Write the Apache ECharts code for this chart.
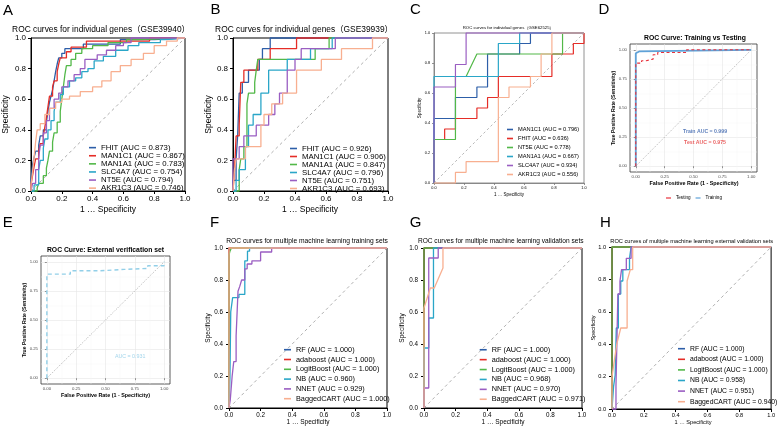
<!DOCTYPE html>
<html><head><meta charset="utf-8">
<script src="https://cdn.jsdelivr.net/npm/echarts@6/dist/echarts.min.js"></script>
<style>html,body{margin:0;padding:0;background:#fff}#c{width:778px;height:427px}</style>
</head><body><div id="c"></div>
<script>
// ---------------- DATA ----------------
const DIAG = [[0,0],[1,1]];
const A_NAMES = ['FHIT (AUC = 0.873)','MAN1C1 (AUC = 0.867)','MAN1A1 (AUC = 0.783)','SLC4A7 (AUC = 0.754)','NT5E (AUC = 0.794)','AKR1C3 (AUC = 0.746)'];
const A_FHIT = [[0,0],[0,0.08],[0.01,0.08],[0.01,0.17],[0.02,0.17],[0.02,0.22],[0.03,0.22],[0.03,0.26],[0.05,0.26],[0.05,0.3],[0.06,0.3],[0.06,0.36],[0.08,0.36],[0.08,0.4],[0.1,0.4],[0.1,0.45],[0.11,0.45],[0.11,0.52],[0.12,0.52],[0.12,0.58],[0.13,0.58],[0.13,0.62],[0.14,0.62],[0.14,0.66],[0.15,0.66],[0.15,0.72],[0.16,0.72],[0.16,0.78],[0.17,0.78],[0.17,0.83],[0.18,0.83],[0.18,0.87],[0.2,0.87],[0.2,0.9],[0.22,0.9],[0.22,0.93],[0.34,0.93],[0.34,0.96],[0.58,0.96],[0.58,0.99],[0.8,0.99],[0.8,1],[1,1]];
const A_MAN1C1 = [[0,0],[0,0.04],[0.01,0.04],[0.01,0.1],[0.02,0.1],[0.02,0.16],[0.03,0.16],[0.03,0.21],[0.05,0.21],[0.05,0.26],[0.06,0.26],[0.06,0.31],[0.08,0.31],[0.08,0.36],[0.09,0.36],[0.09,0.42],[0.1,0.42],[0.1,0.48],[0.11,0.48],[0.11,0.55],[0.12,0.55],[0.12,0.62],[0.14,0.62],[0.14,0.68],[0.15,0.68],[0.15,0.72],[0.17,0.72],[0.17,0.78],[0.18,0.78],[0.18,0.83],[0.19,0.83],[0.19,0.87],[0.23,0.87],[0.23,0.91],[0.26,0.91],[0.26,0.94],[0.36,0.94],[0.36,0.98],[0.77,0.98],[0.77,1],[1,1]];
const A_MAN1A1 = [[0,0],[0.04,0],[0.04,0.02],[0.05,0.02],[0.05,0.05],[0.08,0.05],[0.08,0.1],[0.1,0.1],[0.1,0.15],[0.11,0.15],[0.11,0.2],[0.12,0.2],[0.12,0.26],[0.14,0.26],[0.14,0.32],[0.15,0.32],[0.15,0.38],[0.17,0.38],[0.17,0.45],[0.19,0.45],[0.19,0.52],[0.2,0.52],[0.2,0.6],[0.21,0.6],[0.21,0.68],[0.22,0.68],[0.22,0.76],[0.23,0.76],[0.23,0.82],[0.26,0.82],[0.26,0.86],[0.29,0.86],[0.29,0.9],[0.33,0.9],[0.33,0.93],[0.4,0.93],[0.4,0.95],[0.5,0.95],[0.5,0.97],[0.62,0.97],[0.62,0.99],[0.69,0.99],[0.69,1],[1,1]];
const A_SLC4A7 = [[0,0],[0.02,0],[0.02,0.04],[0.05,0.04],[0.05,0.14],[0.06,0.14],[0.06,0.2],[0.08,0.2],[0.08,0.28],[0.09,0.28],[0.09,0.34],[0.11,0.34],[0.11,0.4],[0.13,0.4],[0.13,0.46],[0.15,0.46],[0.15,0.52],[0.16,0.52],[0.16,0.58],[0.19,0.58],[0.19,0.63],[0.21,0.63],[0.21,0.68],[0.25,0.68],[0.25,0.72],[0.29,0.72],[0.29,0.74],[0.33,0.74],[0.33,0.78],[0.37,0.78],[0.37,0.8],[0.41,0.8],[0.41,0.85],[0.47,0.85],[0.47,0.88],[0.55,0.88],[0.55,0.92],[0.63,0.92],[0.63,0.95],[0.7,0.95],[0.7,0.97],[0.84,0.97],[0.84,0.99],[0.87,0.99],[0.87,1],[1,1]];
const A_NT5E = [[0,0],[0.01,0],[0.01,0.05],[0.03,0.05],[0.03,0.14],[0.05,0.14],[0.05,0.22],[0.06,0.22],[0.06,0.3],[0.08,0.3],[0.08,0.38],[0.1,0.38],[0.1,0.46],[0.12,0.46],[0.12,0.54],[0.15,0.54],[0.15,0.6],[0.18,0.6],[0.18,0.64],[0.2,0.64],[0.2,0.68],[0.24,0.68],[0.24,0.72],[0.28,0.72],[0.28,0.76],[0.32,0.76],[0.32,0.8],[0.35,0.8],[0.35,0.86],[0.43,0.86],[0.43,0.89],[0.49,0.89],[0.49,0.92],[0.55,0.92],[0.55,0.95],[0.6,0.95],[0.6,0.97],[0.65,0.97],[0.65,1],[1,1]];
const A_AKR1C3 = [[0,0],[0,0.04],[0.01,0.04],[0.01,0.12],[0.02,0.12],[0.02,0.22],[0.03,0.22],[0.03,0.32],[0.04,0.32],[0.04,0.4],[0.06,0.4],[0.06,0.44],[0.09,0.44],[0.09,0.5],[0.12,0.5],[0.12,0.54],[0.16,0.54],[0.16,0.58],[0.2,0.58],[0.2,0.6],[0.25,0.6],[0.25,0.62],[0.32,0.62],[0.32,0.65],[0.4,0.65],[0.4,0.68],[0.46,0.68],[0.46,0.72],[0.52,0.72],[0.52,0.78],[0.58,0.78],[0.58,0.82],[0.65,0.82],[0.65,0.86],[0.73,0.86],[0.73,0.9],[0.8,0.9],[0.8,0.95],[0.88,0.95],[0.88,0.98],[0.95,0.98],[0.95,1],[1,1]];

const B_NAMES = ['FHIT (AUC = 0.926)','MAN1C1 (AUC = 0.906)','MAN1A1 (AUC = 0.847)','SLC4A7 (AUC = 0.796)','NT5E (AUC = 0.751)','AKR1C3 (AUC = 0.693)'];
const B_FHIT = [[0,0],[0,0.07],[0.02,0.07],[0.02,0.21],[0.03,0.21],[0.03,0.36],[0.04,0.36],[0.04,0.64],[0.06,0.64],[0.06,0.71],[0.1,0.71],[0.1,0.79],[0.17,0.79],[0.17,0.86],[0.19,0.86],[0.19,0.93],[0.24,0.93],[0.24,1],[1,1]];
const B_MAN1C1 = [[0,0],[0.01,0],[0.01,0.14],[0.02,0.14],[0.02,0.36],[0.04,0.36],[0.04,0.43],[0.05,0.43],[0.05,0.71],[0.07,0.71],[0.07,0.79],[0.16,0.79],[0.16,0.86],[0.24,0.86],[0.24,0.93],[0.41,0.93],[0.41,1],[1,1]];
const B_MAN1A1 = [[0,0],[0.04,0],[0.04,0.14],[0.05,0.14],[0.05,0.21],[0.07,0.21],[0.07,0.29],[0.09,0.29],[0.09,0.57],[0.1,0.57],[0.1,0.64],[0.14,0.64],[0.14,0.71],[0.15,0.71],[0.15,0.79],[0.16,0.79],[0.16,0.86],[0.53,0.86],[0.53,0.93],[0.62,0.93],[0.62,1],[1,1]];
const B_SLC4A7 = [[0,0],[0.02,0],[0.02,0.07],[0.04,0.07],[0.04,0.14],[0.08,0.14],[0.08,0.29],[0.1,0.29],[0.1,0.43],[0.13,0.43],[0.13,0.5],[0.18,0.5],[0.18,0.64],[0.23,0.64],[0.23,0.79],[0.35,0.79],[0.35,0.86],[0.5,0.86],[0.5,0.93],[0.64,0.93],[0.64,1],[1,1]];
const B_NT5E = [[0,0],[0,0.21],[0.04,0.21],[0.04,0.29],[0.07,0.29],[0.07,0.36],[0.15,0.36],[0.15,0.43],[0.23,0.43],[0.23,0.5],[0.27,0.5],[0.27,0.57],[0.3,0.57],[0.3,0.64],[0.35,0.64],[0.35,0.79],[0.4,0.79],[0.4,0.86],[0.44,0.86],[0.44,0.93],[0.66,0.93],[0.66,1],[1,1]];
const B_AKR1C3 = [[0,0],[0.01,0],[0.01,0.14],[0.02,0.14],[0.02,0.21],[0.08,0.21],[0.08,0.29],[0.18,0.29],[0.18,0.43],[0.2,0.43],[0.2,0.5],[0.25,0.5],[0.25,0.57],[0.32,0.57],[0.32,0.64],[0.41,0.64],[0.41,0.79],[0.57,0.79],[0.57,0.86],[0.7,0.86],[0.7,0.93],[0.9,0.93],[0.9,1],[1,1]];

const C_NAMES = ['MAN1C1 (AUC = 0.796)','FHIT (AUC = 0.636)','NT5E (AUC = 0.778)','MAN1A1 (AUC = 0.667)','SLC4A7 (AUC = 0.934)','AKR1C3 (AUC = 0.556)'];
const C_MAN1C1 = [[0,0],[0,0.43],[0.143,0.43],[0.143,0.57],[0.286,0.57],[0.286,0.64],[0.357,0.64],[0.357,0.86],[0.571,0.86],[0.571,0.93],[0.643,0.93],[0.643,1],[1,1]];
const C_FHIT = [[0,0],[0,0.29],[0.071,0.29],[0.071,0.36],[0.143,0.36],[0.143,0.43],[0.286,0.43],[0.286,0.5],[0.357,0.5],[0.357,0.57],[0.429,0.57],[0.429,0.71],[0.786,0.71],[0.786,0.86],[0.929,0.86],[0.929,0.93],[1,0.93],[1,1]];
const C_NT5E = [[0,0],[0,0.29],[0.143,0.29],[0.143,0.71],[0.214,0.71],[0.286,0.86],[0.857,0.86],[0.857,1],[1,1]];
const C_MAN1A1 = [[0,0],[0,0.71],[0.429,0.71],[0.429,0.93],[0.571,0.93],[0.571,1],[1,1]];
const C_SLC4A7 = [[0,0],[0,0.64],[0.143,0.64],[0.143,0.79],[0.214,0.79],[0.214,1],[1,1]];
const C_AKR1C3 = [[0,0],[0.143,0],[0.143,0.071],[0.214,0.071],[0.214,0.143],[0.429,0.143],[0.429,0.57],[0.5,0.57],[0.5,0.64],[0.643,0.64],[0.643,0.71],[0.714,0.71],[0.714,0.86],[0.786,0.86],[0.786,1],[1,1]];

const D_NAMES = ['Testing','Training'];
const D_TRAIN = [[0,0],[0,0.971],[0.014,0.971],[0.014,0.986],[0.029,0.986],[0.029,1],[1,1]];
const D_TEST = [[0,0],[0,0.886],[0.05,0.886],[0.05,0.906],[0.09,0.906],[0.09,0.92],[0.15,0.92],[0.15,0.957],[0.19,0.957],[0.19,0.977],[0.44,0.977],[0.44,1],[1,1]];
const D_NOTES = [{value:[0.6,0.3], name:'Train AUC = 0.999'},{value:[0.6,0.2], name:'Test AUC = 0.975'}];

const E_EXT = [[0,0],[0,0.894],[0.2,0.894],[0.2,0.923],[0.45,0.923],[0.45,0.935],[0.66,0.935],[0.66,0.943],[0.86,0.943],[0.86,0.966],[1,0.966],[1,1]];
const E_NOTES = [{value:[0.71,0.19], name:'AUC = 0.931'}];

const GG_TICKS = [0,0.25,0.5,0.75,1];
const GG_MINOR = [0.125,0.375,0.625,0.875];

const F_NAMES = ['RF (AUC = 1.000)','adaboost (AUC = 1.000)','LogitBoost (AUC = 1.000)','NB (AUC = 0.960)','NNET (AUC = 0.929)','BaggedCART (AUC = 1.000)'];
const F_RF = [[0,0],[0,1],[1,1]];
const F_ADA = [[0,0],[0,1],[1,1]];
const F_LOGIT = [[0,0],[0,0.955],[0.006,0.955],[0.006,0.98],[0.015,0.98],[0.015,1],[1,1]];
const F_NB = [[0,0],[0.006,0],[0.006,0.19],[0.011,0.19],[0.011,0.6],[0.023,0.6],[0.023,0.69],[0.063,0.69],[0.063,0.71],[0.1,0.71],[0.1,0.92],[0.117,0.92],[0.117,0.98],[0.13,0.98],[0.13,1],[1,1]];
const F_NNET = [[0,0],[0.008,0],[0.008,0.05],[0.02,0.05],[0.02,0.2],[0.03,0.2],[0.03,0.29],[0.045,0.29],[0.045,0.45],[0.057,0.45],[0.057,0.73],[0.068,0.73],[0.068,0.76],[0.08,0.76],[0.08,0.8],[0.1,0.8],[0.1,0.87],[0.115,0.87],[0.115,0.9],[0.145,0.9],[0.145,0.92],[0.2,0.92],[0.2,0.975],[0.27,0.975],[0.27,1],[1,1]];
const F_BAG = [[0,0],[0,1],[1,1]];

const G_NAMES = ['RF (AUC = 1.000)','adaboost (AUC = 1.000)','LogitBoost (AUC = 1.000)','NB (AUC = 0.968)','NNET (AUC = 0.970)','BaggedCART (AUC = 0.971)'];
const G_RF = [[0,0],[0,1],[1,1]];
const G_ADA = [[0,0],[0,1],[1,1]];
const G_LOGIT = [[0,0],[0,1],[1,1]];
const G_NB = [[0,0],[0,0.375],[0.03,0.375],[0.03,0.5625],[0.06,0.5625],[0.06,1],[1,1]];
const G_NNET = [[0,0],[0,0.125],[0.03,0.125],[0.03,0.9375],[0.09,0.9375],[0.09,1],[1,1]];
const G_BAG = [[0,0],[0,0.625],[0.04,0.75],[0.065,0.75],[0.12,0.875],[0.12,1],[1,1]];

const H_NAMES = ['RF (AUC = 1.000)','adaboost (AUC = 1.000)','LogitBoost (AUC = 1.000)','NB (AUC = 0.958)','NNET (AUC = 0.951)','BaggedCART (AUC = 0.940)'];
const H_RF = [[0,0],[0,1],[1,1]];
const H_ADA = [[0,0],[0,1],[1,1]];
const H_LOGIT = [[0,0],[0,1],[1,1]];
const H_NB = [[0,0],[0.01,0],[0.01,0.14],[0.02,0.14],[0.02,0.21],[0.027,0.21],[0.027,0.5],[0.04,0.5],[0.04,0.71],[0.055,0.71],[0.055,0.79],[0.068,0.79],[0.068,0.86],[0.11,0.86],[0.11,0.93],[0.12,0.93],[0.12,1],[1,1]];
const H_NNET = [[0,0],[0.025,0],[0.025,0.14],[0.037,0.14],[0.037,0.71],[0.05,0.71],[0.05,0.79],[0.06,0.79],[0.06,0.86],[0.09,0.86],[0.09,0.93],[0.12,0.93],[0.12,1],[1,1]];
const H_BAG = [[0,0],[0,0.2],[0.03,0.4],[0.055,0.5],[0.095,0.5],[0.095,0.79],[0.115,0.86],[0.13,0.86],[0.13,1],[1,1]];

// ---------------- STYLE / LAYOUT ----------------
const FONT = '"Liberation Sans", Arial, "Noto Sans CJK SC", sans-serif';
const PAL = ['#2D5EA8','#E52D27','#52B848','#2AA6C8','#9A5EC2','#F8AF90'];
const L = {
  A:{l:31,t:38,w:154,h:153}, B:{l:233,t:38,w:155,h:153}, C:{l:434,t:33,w:150,h:150},
  D:{l:630,t:44,w:127,h:128}, E:{l:41,t:256,w:129,h:128},
  F:{l:229,t:248,w:158,h:160}, G:{l:424,t:248,w:158,h:160}, H:{l:612,t:247,w:162,h:162}
};
const opt = {animation:false, backgroundColor:'#fff', grid:[], xAxis:[], yAxis:[], series:[], legend:[], graphic:[]};

function txt(text, x, y, size, o) {
  o = o || {};
  opt.graphic.push({type:'text', x:x, y:y, rotation:o.rot||0, silent:true, z:100,
    style:{text:text, align:'center', verticalAlign:'middle', textAlign:'center', textVerticalAlign:'middle',
      font:(o.bold?'bold ':'')+size+'px '+FONT, fill:o.color||'#000'}});
}
function baseAxes(k, s) {
  const g = L[k], gi = opt.grid.length;
  opt.grid.push({left:g.l, top:g.t, width:g.w, height:g.h, show:true, borderColor:s.bc, borderWidth:s.bw, backgroundColor:'rgba(0,0,0,0)'});
  const ax = isX => ({gridIndex:gi, type:'value', min:0, max:1, interval:0.2,
    axisLine:{show:true,onZero:false,lineStyle:{color:s.bc,width:s.bw}},
    axisTick:{show:true,length:s.tl,lineStyle:{color:s.bc,width:s.bw}},
    axisLabel:{fontSize:s.fs, fontFamily:FONT, color:'#000', margin:isX?s.mx:s.my, formatter:v=>v.toFixed(1)},
    splitLine:{show:false}});
  const xi = opt.xAxis.length; opt.xAxis.push(ax(true));
  const yi = opt.yAxis.length; opt.yAxis.push(ax(false));
  return {xi, yi};
}
function ggAxes(k) {
  const g = L[k], gi = opt.grid.length;
  opt.grid.push({left:g.l, top:g.t, width:g.w, height:g.h, show:true, borderColor:'#333', borderWidth:0.8, backgroundColor:'rgba(0,0,0,0)'});
  const major = isX => ({gridIndex:gi, type:'value', min:-0.05, max:1.05,
    axisLine:{show:false}, axisTick:{show:true, length:2, customValues:GG_TICKS, lineStyle:{color:'#333', width:0.5}},
    axisLabel:{customValues:GG_TICKS, fontSize:4.3, fontFamily:FONT, color:'#4d4d4d', margin:3, formatter:v=>v.toFixed(2)},
    splitLine:{show:true, lineStyle:{color:'#e6e6e6', width:0.6}}});
  const minor = isX => ({gridIndex:gi, type:'value', min:-0.05, max:1.05, position:isX?'top':'right',
    axisLine:{show:false}, axisTick:{show:false, customValues:GG_MINOR}, axisLabel:{show:false, customValues:GG_MINOR},
    splitLine:{show:true, lineStyle:{color:'#f2f2f2', width:0.4}}});
  const xi = opt.xAxis.length; opt.xAxis.push(major(true)); opt.xAxis.push(minor(true));
  const yi = opt.yAxis.length; opt.yAxis.push(major(false)); opt.yAxis.push(minor(false));
  return {xi, yi};
}
function curve(ax, name, data, color, width, dash) {
  opt.series.push({type:'line', name:name, xAxisIndex:ax.xi, yAxisIndex:ax.yi, data:data, showSymbol:false, symbol:'none',
    silent:true, clip:false, lineStyle:{color:color, width:width, type:dash||'solid'}, itemStyle:{color:color}, emphasis:{disabled:true}});
}
function diag(ax, color, dash, w) { curve(ax, undefined, DIAG, color, w, dash); }
function notes(ax, data, color, size, bold) {
  opt.series.push({type:'scatter', xAxisIndex:ax.xi, yAxisIndex:ax.yi, data:data, symbolSize:1, silent:true,
    itemStyle:{color:'rgba(0,0,0,0)'},
    label:{show:true, position:'inside', formatter:'{b}', fontSize:size, fontWeight:bold?'bold':'normal', fontFamily:FONT, color:color}});
}
function legend(names, left, top, o) {
  opt.legend.push({orient:o.orient||'vertical', left:left, top:top, padding:0, itemWidth:o.iw, itemHeight:o.ih||1.6,
    itemGap:o.gap||0, icon:'rect', selectedMode:false, data:names, itemStyle:{borderWidth:0},
    textStyle:{fontSize:o.fs, lineHeight:o.lh, fontFamily:FONT, color:'#000'}});
}

// ---------------- BUILD ----------------
const baseStyle = {bc:'#000', bw:1, tl:3, fs:8, mx:4, my:5};
// A
let ax = baseAxes('A', baseStyle);
diag(ax, '#9a9a9a', [3,3], 0.8);
[A_FHIT,A_MAN1C1,A_MAN1A1,A_SLC4A7,A_NT5E,A_AKR1C3].forEach((d,i)=>curve(ax, A_NAMES[i], d, PAL[i], 1.3));
legend(A_NAMES, 89, 143.6, {iw:7, fs:7.8, lh:8.1});
// B
ax = baseAxes('B', baseStyle);
diag(ax, '#9a9a9a', [3,3], 0.8);
[B_FHIT,B_MAN1C1,B_MAN1A1,B_SLC4A7,B_NT5E,B_AKR1C3].forEach((d,i)=>curve(ax, B_NAMES[i], d, PAL[i], 1.3));
legend(B_NAMES, 290, 144.5, {iw:7, fs:7.8, lh:8});
// C
ax = baseAxes('C', {bc:'#777', bw:0.8, tl:2, fs:3.8, mx:3, my:4});
diag(ax, '#9a9a9a', [2.5,2.5], 0.7);
[C_MAN1C1,C_FHIT,C_NT5E,C_MAN1A1,C_SLC4A7,C_AKR1C3].forEach((d,i)=>curve(ax, C_NAMES[i], d, PAL[i], 1.2));
legend(C_NAMES, 507, 125, {iw:6, fs:5.7, lh:9});
// D
ax = ggAxes('D');
diag(ax, '#8c8c8c', [1,1.5], 0.7);
curve(ax, 'Training', D_TRAIN, '#5FA2D8', 1.8);
curve(ax, 'Testing', D_TEST, '#E8323C', 1.1, [3,2.5]);
notes(ax, [D_NOTES[0]], '#3660AB', 5.2, true);
notes(ax, [D_NOTES[1]], '#E53A3A', 5.2, true);
legend(D_NAMES, 666, 195, {orient:'horizontal', iw:5, ih:1.2, gap:5, fs:4.6, lh:6});
// E
ax = ggAxes('E');
diag(ax, '#8c8c8c', [1,1.5], 0.7);
curve(ax, 'External', E_EXT, '#92CFE8', 1.4, [4,3]);
notes(ax, E_NOTES, '#8CCBE6', 5.3, false);
// F
const mlStyle = {bc:'#000', bw:1, tl:3, fs:6.3, mx:4, my:6};
ax = baseAxes('F', mlStyle);
diag(ax, '#9a9a9a', [3,3], 0.8);
[F_RF,F_ADA,F_LOGIT,F_NB,F_NNET,F_BAG].forEach((d,i)=>curve(ax, F_NAMES[i], d, PAL[i], 1.3));
legend(F_NAMES, 284, 344.8, {iw:7, fs:7.3, lh:9.8});
// G
ax = baseAxes('G', mlStyle);
diag(ax, '#9a9a9a', [3,3], 0.8);
[G_RF,G_ADA,G_LOGIT,G_NB,G_NNET,G_BAG].forEach((d,i)=>curve(ax, G_NAMES[i], d, PAL[i], 1.3));
legend(G_NAMES, 479.7, 344.8, {iw:7, fs:7.3, lh:9.9});
// H
ax = baseAxes('H', {bc:'#000', bw:1, tl:3, fs:5.6, mx:4, my:6});
diag(ax, '#9a9a9a', [3,3], 0.8);
[H_RF,H_ADA,H_LOGIT,H_NB,H_NNET,H_BAG].forEach((d,i)=>curve(ax, H_NAMES[i], d, PAL[i], 1.3));
legend(H_NAMES, 678, 343.4, {iw:7, fs:6.8, lh:10.6});

// texts
const R = Math.PI/2;
[['A',8,10.5],['B',215.5,10],['C',415.5,10],['D',604,10],['E',7.7,223.3],['F',214.5,223],['G',415.5,223],['H',605.5,223]]
  .forEach(a=>txt(a[0], a[1], a[2], 15));
txt('ROC curves for individual genes（GSE39940）', 101, 29.3, 8.4);
txt('ROC curves for individual genes（GSE39939）', 304, 29.3, 8.4);
txt('ROC curves for individual genes（GSE62525）', 508.3, 28.3, 4.3);
txt('ROC Curve: Training vs Testing', 695, 37.7, 6.8, {bold:true});
txt('ROC Curve: External verification set', 105.5, 249.7, 6.8, {bold:true});
txt('ROC curves for multiple machine learning training sets', 307, 241.3, 6.7);
txt('ROC curves for multiple machine learning validation sets', 500.7, 241.3, 6.6);
txt('ROC curves of multiple machine learning external validation sets', 691.7, 241, 5.7);
const XN = '1 … Specificity';
txt('Specificity', 6, 114.5, 8.5, {rot:R}); txt(XN, 108, 210, 8.5);
txt('Specificity', 208.3, 114.5, 8.5, {rot:R}); txt(XN, 310, 209.5, 8.5);
txt('Specificity', 419.3, 108, 4.5, {rot:R}); txt(XN, 509, 194.5, 4.5);
txt('True Positive Rate (Sensitivity)', 614, 108, 5.1, {rot:R, bold:true}); txt('False Positive Rate (1 - Specificity)', 694, 183.3, 5.4, {bold:true});
txt('True Positive Rate (Sensitivity)', 25, 320, 5.1, {rot:R, bold:true}); txt('False Positive Rate (1 - Specificity)', 105.5, 395.3, 5.4, {bold:true});
txt('Specificity', 208.3, 328, 6.5, {rot:R}); txt(XN, 308, 422.7, 6.5);
txt('Specificity', 402.3, 328, 6.5, {rot:R}); txt(XN, 503, 422.7, 6.5);
txt('Specificity', 593.3, 328, 5.6, {rot:R}); txt(XN, 693, 422.7, 5.6);

const chart = echarts.init(document.getElementById('c'));
chart.setOption(opt);
</script></body></html>
